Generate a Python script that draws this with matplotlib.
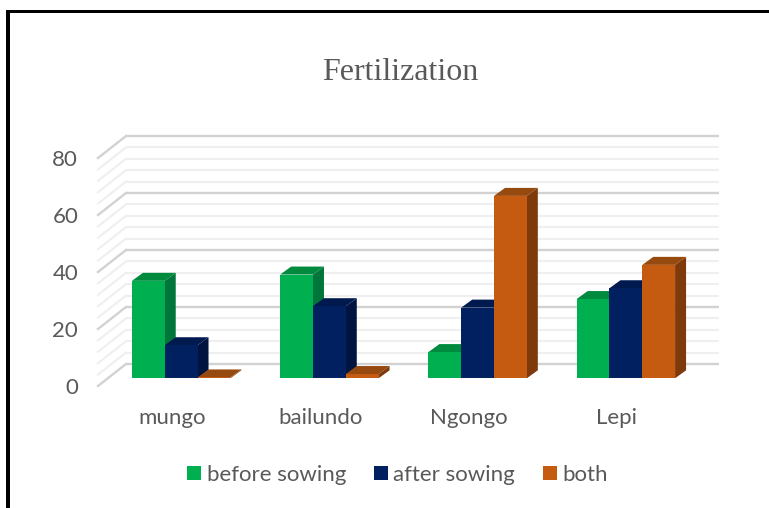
import numpy as np
import matplotlib
matplotlib.use('Agg')
import matplotlib.pyplot as plt
from matplotlib.patches import Polygon, Rectangle

categories = ['mungo', 'bailundo', 'Ngongo', 'Lepi']
before_sowing = [34.2, 36.4, 9.2, 27.8]
after_sowing = [11.6, 25.3, 24.8, 31.6]
both = [0.3, 1.5, 64.0, 39.8]
y_ticks = [0, 20, 40, 60, 80]
minor_step = 4

W, H = 769, 508
TEXT = '#595959'
# pixels per data unit
PX_X = 148.25
PX_Y = 2.85


def side_top(ax, x, v, base, width, dx, dy, side, top):
    x0 = x - width / 2
    x1 = x + width / 2
    y1 = base + v
    ax.add_patch(Polygon([(x1, base), (x1 + dx, base + dy), (x1 + dx, y1 + dy), (x1, y1)],
                         fc=side, ec='none', clip_on=False, zorder=3))
    ax.add_patch(Polygon([(x0, y1), (x0 + dx, y1 + dy), (x1 + dx, y1 + dy), (x1, y1)],
                         fc=top, ec='none', clip_on=False, zorder=3))


fig = plt.figure(figsize=(W / 100, H / 100), dpi=100)
plt.rcParams['font.family'] = 'Lato'

# black frame, only left and top are in the picture
fig.add_artist(Rectangle((6 / W, 0), 4 / W, 1 - 10 / H, transform=fig.transFigure, fc='black', ec='none'))
fig.add_artist(Rectangle((6 / W, 1 - 13 / H), 763 / W, 3 / H, transform=fig.transFigure, fc='black', ec='none'))

ax = fig.add_axes([98 / W, 1 - 386 / H, 593 / W, 228 / H])
ax.set_xlim(-0.5, 3.5)
ax.set_ylim(0, 80)
for s in ax.spines.values():
    s.set_visible(False)
ax.patch.set_alpha(0)

# back wall and left wall lines
back_dx = 28 / PX_X
back_dy = 22 / PX_Y
for v in np.arange(0, 81, minor_step):
    major = v % 20 == 0
    c = '#d2d2d2' if major else '#efefef'
    lw = 1.7 if major else 1.5
    ax.plot([-0.5 + back_dx, 3.5 + back_dx], [v + back_dy, v + back_dy], color=c, lw=lw,
            clip_on=False, zorder=1 if not major else 1.5, solid_capstyle='butt')
    ax.plot([-0.5, -0.5 + back_dx], [v, v + back_dy], color=c, lw=lw,
            clip_on=False, zorder=1 if not major else 1.5)

# bars
bar_w = 32.8 / PX_X
bar_dx = 9 / PX_X
bar_base = 7.7 / PX_Y
depth_x = 11 / PX_X
depth_y = 8 / PX_Y
series = [('before sowing', before_sowing, '#00B050', '#00763A', '#008A3E'),
          ('after sowing', after_sowing, '#002060', '#00143F', '#001A50'),
          ('both', both, '#C55A11', '#7F3A0B', '#974A0F')]
x = np.arange(len(categories))
handles = []
for i, (name, vals, c, side, top) in enumerate(series):
    xs = x + bar_dx + (i - 1) * bar_w
    for xi, v in zip(xs, vals):
        side_top(ax, xi, v, bar_base, bar_w, depth_x, depth_y, side, top)
    b = ax.bar(xs, vals, width=bar_w, bottom=bar_base, color=c, label=name, zorder=4, clip_on=False)
    handles.append(b)

ax.set_xticks(x)
ax.set_xticklabels(categories, fontsize=16, color=TEXT)
ax.set_yticks(y_ticks)
ax.set_yticklabels([str(t) for t in y_ticks], fontsize=16, color=TEXT)
ax.tick_params(axis='both', length=0)
ax.tick_params(axis='x', pad=15.7)
ax.tick_params(axis='y', pad=14.3)

fig.text(400 / W, 1 - 72 / H, 'Fertilization', family='Liberation Serif', fontsize=23,
         color=TEXT, ha='center', va='center')

fig.legend(handles=handles, loc='center', bbox_to_anchor=(397.5 / W, 1 - 475 / H), ncol=3, frameon=False,
           fontsize=16, labelcolor=TEXT, handlelength=0.63, handleheight=0.63, handletextpad=0.25,
           columnspacing=1.25)

fig.savefig('out.png', dpi=100)
